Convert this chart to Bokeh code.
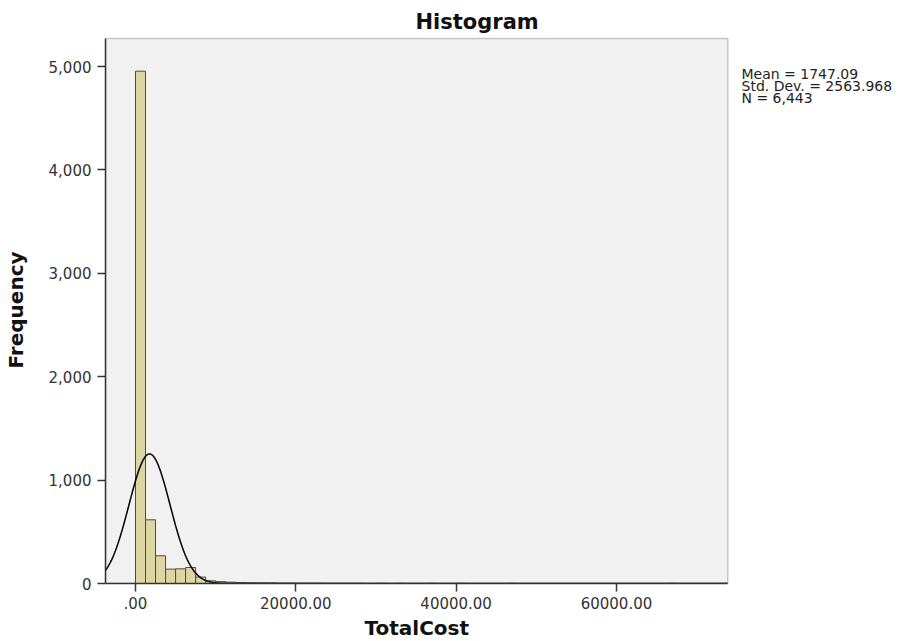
import numpy as np
from bokeh.plotting import figure
from bokeh.models import Range1d, FixedTicker, Label, Title, ColumnDataSource, BoxAnnotation
from bokeh.embed import file_html
from bokeh.resources import INLINE

# ---- data ----
bin_width = 1250.0
bin_counts = [4955, 616, 268, 139, 142, 155, 62, 26, 18, 13, 9, 7, 6, 5, 3, 3,
              2, 2, 2, 1, 1, 1, 1, 0, 1, 0, 1, 0, 0, 1, 0, 0, 1, 0, 0, 0,
              0, 1, 0, 0, 0, 0, 0, 0, 0, 0, 0, 0, 0, 0, 0, 0, 0, 1, 0, 0]
stat_mean = 1747.09
stat_sd = 2563.968
stat_n = 6443
x_ticks = [0, 20000, 40000, 60000]
x_tick_labels = [".00", "20000.00", "40000.00", "60000.00"]
y_ticks = [0, 1000, 2000, 3000, 4000, 5000]
y_tick_labels = ["0", "1,000", "2,000", "3,000", "4,000", "5,000"]
stat_texts = ["Mean = 1747.09", "Std. Dev. = 2563.968", "N = 6,443"]

FONT = "DejaVu Sans"
x_lo, x_hi = -3743, 73890          # visible plot-area limits
y_lo, y_hi = 0, 5271

# pixel geometry of the plot area
FL, FR, FT, FB = 105, 727.3, 38, 582.7
W, H = 922, 641
px_per_x = (FR - FL) / (x_hi - x_lo)
px_per_y = (FB - FT) / (y_hi - y_lo)
x_end = x_lo + (W - 1 - FL) / px_per_x      # frame extended to the right for the stats text
y_end = y_hi + 2 / px_per_y

p = figure(width=W, height=H, output_backend="svg", toolbar_location=None,
           x_range=Range1d(x_lo, x_end), y_range=Range1d(y_lo, y_end),
           min_border_left=FL, min_border_right=1, min_border_top=int(FT - 2),
           min_border_bottom=int(H - FB))
p.background_fill_color = "white"
p.border_fill_color = "white"
p.outline_line_color = None
p.grid.visible = False

p.add_layout(BoxAnnotation(left=x_lo, right=x_hi, bottom=y_lo, top=y_hi,
                           fill_color="#f1f1f1", fill_alpha=1.0,
                           line_color="#555555", line_width=1.5, level="underlay"))

lefts = [i * bin_width for i in range(len(bin_counts))]
rights = [l + bin_width for l in lefts]
src = ColumnDataSource(dict(left=lefts, right=rights, top=bin_counts,
                            bottom=[0] * len(bin_counts)))
p.quad(left="left", right="right", top="top", bottom="bottom", source=src,
       fill_color="#ddd6a3", line_color="#4a4a4a", line_width=1)

xs = np.linspace(x_lo, x_hi, 800)
ys = stat_n * bin_width / (stat_sd * np.sqrt(2 * np.pi)) * np.exp(-0.5 * ((xs - stat_mean) / stat_sd) ** 2)
p.line(xs, ys, line_color="black", line_width=1.5)

# axes
for ax in (p.xaxis[0], p.yaxis[0]):
    ax.axis_line_color = "#333333"
    ax.axis_line_width = 1.5
    ax.major_tick_line_color = "#333333"
    ax.major_tick_line_width = 1.5
    ax.major_tick_out = 8
    ax.major_tick_in = 0
    ax.minor_tick_line_color = None
    ax.major_label_text_font = FONT
    ax.major_label_text_font_size = "15px"
    ax.major_label_text_color = "#333333"
    ax.axis_label_text_font = FONT
    ax.axis_label_text_font_style = "bold"
    ax.axis_label_text_font_size = "20px"
    ax.axis_label_text_color = "#111111"

p.xaxis[0].ticker = FixedTicker(ticks=x_ticks)
p.xaxis[0].bounds = (x_lo, x_hi)
p.xaxis[0].major_label_overrides = {t: s for t, s in zip(x_ticks, x_tick_labels)}
p.xaxis[0].major_label_standoff = 5

p.yaxis[0].ticker = FixedTicker(ticks=y_ticks)
p.yaxis[0].bounds = (y_lo, y_hi)
p.yaxis[0].major_label_overrides = {t: s for t, s in zip(y_ticks, y_tick_labels)}
p.yaxis[0].axis_label = "Frequency"
p.yaxis[0].major_label_standoff = 6
p.yaxis[0].axis_label_standoff = 18

title = Title(text="Histogram", align="left", offset=310, standoff=6, text_font=FONT,
              text_font_style="bold", text_font_size="21px", text_color="#111111")
p.add_layout(title, "above")

# x-axis title, centred under the plot area
xlabel = Title(text="TotalCost", align="left", offset=259, standoff=4, text_font=FONT,
               text_font_style="bold", text_font_size="20px", text_color="#111111")
p.add_layout(xlabel, "below")

# statistics text to the right of the plot area
lx = x_hi + (741 - FR) / px_per_x
for i, t in enumerate(stat_texts):
    cy = 73 + 12 * i
    p.add_layout(Label(x=lx, y=(FB - cy) / px_per_y, text=t, text_font=FONT,
                       text_font_size="14px", text_color="#222222",
                       text_baseline="middle", text_align="left"))

open("out.html", "w").write(file_html(p, INLINE))
